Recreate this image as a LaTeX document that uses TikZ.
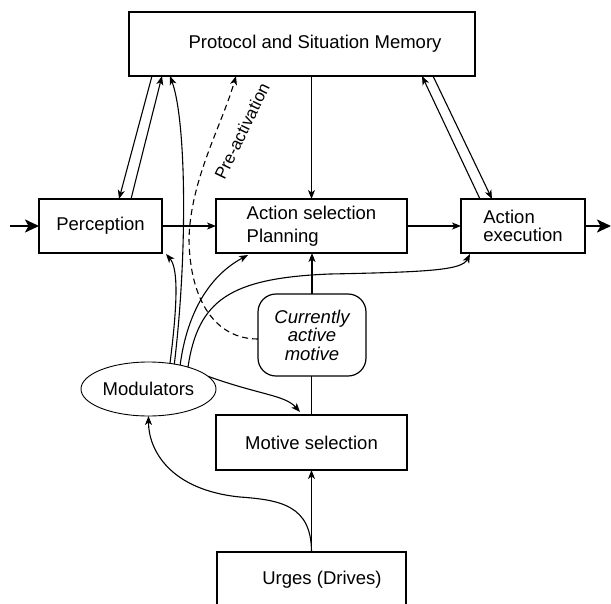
\documentclass[tikz,border=0pt]{standalone}
\usepackage{fontspec}
\setmainfont{Liberation Sans}
\usetikzlibrary{arrows.meta,calc,shapes.geometric}
\begin{document}
\begin{tikzpicture}[x=1pt,y=-1pt,
  box/.style={draw,line width=1.5pt,inner sep=0pt,outer sep=0pt,font=\fontsize{18.5}{18.5}\selectfont},
  conn/.style={line width=1.1pt,-{Stealth[length=9pt,width=7pt,inset=2.5pt]}},
  plainline/.style={line width=1.1pt},
  bigarrow/.style={line width=2.2pt,-{Stealth[length=14pt,width=13pt,inset=3.5pt]}},
  ]
\useasboundingbox (0,0) rectangle (611,603);
\clip (0,0) rectangle (611,603);

% nodes
\node[box,minimum width=346,minimum height=64] (psm) at (302,44) {\hspace*{26pt}Protocol and Situation Memory};
\node[box,minimum width=123,minimum height=54] (perc) at (100.5,226) {Perception};
\node[box,minimum width=191,minimum height=54,align=left] (asel) at (311.5,226) {Action selection\\[5pt]Planning};
\node[box,minimum width=124,minimum height=54,align=left] (aexe) at (523,226) {Action\\execution};
\node[box,line width=1.2pt,rounded corners=18pt,minimum width=108,minimum height=82,align=center,font=\fontsize{18.5}{18.5}\selectfont\itshape] (cam) at (312,335) {Currently\\active\\motive};
\node[box,ellipse,line width=0.9pt,minimum width=135,minimum height=54] (mod) at (148.5,389) {Modulators};
\node[box,minimum width=191,minimum height=55] (msel) at (311.5,442.5) {Motive selection};
\node[box,minimum width=189,minimum height=56] (urg) at (311.5,580) {\hspace*{21pt}Urges (Drives)};

\coordinate (in) at (10,226);
\coordinate (out) at (611,226);

% main flow
\draw[bigarrow] (in) -- (perc.west);
\draw[bigarrow] (aexe.east) -- (out);
\draw[conn] (perc.east) -- (asel.west);
\draw[conn] (asel.east) -- (aexe.west);
\draw[conn] (asel.north |- psm.south) -- (asel.north);

% memory <-> perception
\draw[conn] ($(psm.south west)+(23,0)$) -- ($(perc.north west)+(80,0)$);
\draw[conn] ($(perc.north west)+(92,0)$) -- ($(psm.south west)+(33,0)$);
% memory <-> action execution
\draw[conn] ($(aexe.north west)+(19,0)$) -- ($(psm.south east)+(-53,0)$);
\draw[conn] ($(psm.south east)+(-42,0)$) -- ($(aexe.north west)+(31,0)$);

% motive chain
\draw[conn] (cam.north) -- (cam.north |- asel.south);
\draw[plainline] (msel.north) -- (msel.north |- cam.south);
\draw[conn] (urg.north) -- (msel.south);
\draw[conn] (urg.north) .. controls (311.5,505) and (280,500) .. (240,497)
  .. controls (170,490) and (148.5,450) .. (mod.south);
\draw[conn] (mod.12) .. controls (260,395) and (285,395) .. ($(msel.north west)+(84,-3)$);

% modulators outputs
\draw[conn] (mod.50) .. controls (178,300) and (178,268) .. ($(perc.south east)+(4,1)$);
\draw[conn] (mod.44) .. controls (188,250) and (186,120) .. ($(psm.south west)+(41,0)$);
\draw[conn] (mod.37) .. controls (186,320) and (205,278) .. ($(asel.south west)+(32,2)$);
\draw[conn] (mod.29) .. controls (198,300) and (230,278) .. (330,274)
  .. controls (430,272) and (462,270) .. ($(aexe.south west)+(9,1)$);

% pre-activation
\draw[conn,dash pattern=on 6pt off 4pt] ($(cam.west)+(0,4)$) .. controls (215,339) and (190,300) .. (189,240)
  .. controls (190,180) and (222,125) .. ($(psm.south west)+(107,0)$);
\node[rotate=64,font=\fontsize{17}{17}\selectfont] (prelabel) at (242,131) {Pre-activation};
\end{tikzpicture}
\end{document}
